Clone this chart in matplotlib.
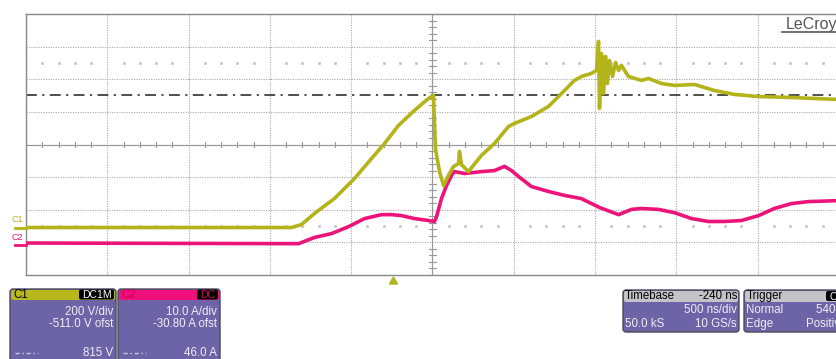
import matplotlib
matplotlib.use("Agg")
import matplotlib.pyplot as plt
from matplotlib.patches import FancyBboxPatch, Polygon
from matplotlib.transforms import blended_transform_factory

W, H = 837, 359

# Scope settings
c1_vdiv = 200.0      # V/div
c1_offset = -511.0   # V
c2_adiv = 10.0       # A/div
c2_offset = -30.80   # A
t_div = 500.0        # ns/div
t_delay = -240.0     # ns
cursor_v = 815.0     # V
cursor_a = 46.0      # A

# Channel 1: voltage (ns, V)
c1_t = [-2260, -627, -566, -486, -363, -240, -135, -55, 31, 129, 215, 246,
        258, 283, 308, 338, 369, 400, 406, 418, 461, 541, 621, 707, 744, 849,
        953, 1052, 1113, 1156, 1218, 1249, 1261, 1267, 1279, 1292, 1304, 1316,
        1329, 1347, 1366, 1384, 1402, 1445, 1525, 1568, 1648, 1728, 1851,
        1974, 2097, 2245, 2448, 2740]
c1_v = [2, 2, 20, 88, 180, 302, 425, 517, 628, 720, 793, 812,
        486, 345, 259, 321, 376, 394, 468, 388, 345, 444, 517, 621, 640, 683,
        744, 842, 904, 928, 947, 965, 1143, 732, 1069, 824, 1051, 885,
        1026, 928, 1014, 965, 996, 928, 904, 916, 885, 873, 879,
        842, 818, 805, 799, 787]

# Channel 2: current (ns, A)
c2_t = [-2260, -584, -486, -381, -277, -178, -74, -12, 49, 129, 215, 252,
        265, 295, 326, 357, 375, 437, 541, 621, 683, 726, 769, 849, 953, 1052,
        1156, 1267, 1384, 1464, 1525, 1630, 1728, 1833, 1937, 2036, 2140,
        2245, 2343, 2448, 2552, 2740]
c2_a = [0.6, 0.4, 2.3, 3.5, 5.6, 8.1, 9.3, 9.3, 9.0, 8.1, 7.5, 7.2,
        8.7, 14.2, 18.2, 21.3, 22.5, 21.9, 22.5, 22.8, 24.1, 22.8, 21.0, 17.9,
        16.4, 15.2, 14.2, 11.5, 9.3, 10.9, 11.2, 10.9, 9.9, 8.1, 7.2, 7.2, 7.5,
        9.0, 11.2, 12.7, 13.3, 13.6]

C1_COL = "#b3b31a"
C2_COL = "#ec1479"
PANEL = "#6d64a7"
GRID = "#a8a8a8"


def tx(t):
    return (t + t_delay) / t_div


def y1(v):
    return (v + c1_offset) / c1_vdiv


def y2(a):
    return (a + c2_offset) / c2_adiv


fig = plt.figure(figsize=(W / 100, H / 100), dpi=100)
fig.patch.set_facecolor("white")

# Graticule
ax = fig.add_axes([26 / W, (H - 275) / H, 813 / W, 261 / H])
ax.set_xlim(-5, 5)
ax.set_ylim(-4, 4)
ax.set_xticks([])
ax.set_yticks([])
for s in ax.spines.values():
    s.set_color("#888888")
    s.set_linewidth(1.0)

# Pixel overlay for panels and labels, drawn above the graticule
ov = fig.add_axes([0, 0, 1, 1])
ov.set_xlim(0, W)
ov.set_ylim(H, 0)
ov.axis("off")
ov.set_zorder(5)

for i in range(-4, 5):
    if i != 0:
        ax.axvline(i, color=GRID, lw=0.8, ls=(0, (1, 1.2)), zorder=1)
for j in range(-3, 4):
    if j != 0:
        ax.axhline(j, color=GRID, lw=0.8, ls=(0, (1, 1.2)), zorder=1)
ax.axhline(0, color="#999999", lw=0.9, zorder=1)
ax.axvline(0, color="#999999", lw=0.9, zorder=1)

minor = [k / 5 for k in range(-25, 26) if k % 5 != 0]
for m in minor:
    ax.plot([m, m], [-0.09, 0.09], color="#999999", lw=0.8, zorder=1)
for m in [k / 5 for k in range(-20, 21) if k % 5 != 0]:
    ax.plot([-0.045, 0.045], [m, m], color="#999999", lw=0.8, zorder=1)
for yy in (2.5, -2.5):
    ax.plot(minor, [yy] * len(minor), ls="none", marker="s", ms=1.0,
            color="#c4c4c4", zorder=1)

# Cursor level
ax.axhline(y1(cursor_v), color="#404040", lw=1.3, ls=(0, (6, 3, 1.2, 3)), zorder=2)

# Traces
ax.plot([tx(t) for t in c2_t], [y2(a) for a in c2_a], color=C2_COL, lw=2.6,
        zorder=3, solid_joinstyle="round")
ax.plot([tx(t) for t in c1_t], [y1(v) for v in c1_v], color=C1_COL, lw=2.6,
        zorder=4, solid_joinstyle="round")

# Channel ground markers
bt = blended_transform_factory(ov.transData, ax.transData)
ov_font = ["Liberation Sans", "DejaVu Sans"]
ov.plot([15, 26], [y1(0), y1(0)], color=C1_COL, lw=2, transform=bt, clip_on=False)
ov.plot([15, 26], [y2(0), y2(0)], color=C2_COL, lw=2, transform=bt, clip_on=False)
ov.text(12, 220, "C1", color=C1_COL, fontsize=6.5, family=ov_font, va="center")
ov.text(12, 237, "C2", color=C2_COL, fontsize=6.5, family=ov_font, va="center")

# Trigger position marker
trig_x = 26 + (tx(0) + 5) * 81.3
ov.add_patch(Polygon([[trig_x - 4, 284], [trig_x + 4, 284], [trig_x, 277]],
                     closed=True, color=C1_COL))

# Brand
ov.text(837, 24, "LeCroy", color="#555555", fontsize=11.5, family=ov_font,
        ha="right", va="center")
ov.plot([782, 836], [32, 32], color="#555555", lw=1.2)


def panel(x0, x1, y0, y1_, hdr_h, hdr_col):
    ov.add_patch(FancyBboxPatch((x0, y0), x1 - x0, y1_ - y0,
                                boxstyle="round,pad=0,rounding_size=3",
                                fc=PANEL, ec="#4a4a5a", lw=1.0))
    ov.add_patch(FancyBboxPatch((x0 + 1, y0 + 1), x1 - x0 - 2, hdr_h,
                                boxstyle="round,pad=0,rounding_size=2",
                                fc=hdr_col, ec="none"))


def badge(x0, x1, yc, label, tcol):
    ov.add_patch(FancyBboxPatch((x0, yc - 5), x1 - x0, 10,
                                boxstyle="round,pad=0,rounding_size=2",
                                fc="black", ec="none"))
    ov.text((x0 + x1) / 2, yc + 0.5, label, color=tcol, fontsize=7.5,
            family=ov_font, ha="center", va="center")


TXT = "#eeeef4"
fs = 8.3

# C1 panel
panel(10, 116, 289, 365, 10, "#b8b81c")
ov.text(13, 294.5, "C1", color="black", fontsize=fs, family=ov_font, va="center")
badge(79, 114, 294.5, "DC1M", "white")
ov.text(113, 312, "200 V/div", color=TXT, fontsize=fs, family=ov_font, ha="right", va="center")
ov.text(113, 324, "-511.0 V ofst", color=TXT, fontsize=fs, family=ov_font, ha="right", va="center")
ov.text(113, 353, "815 V", color=TXT, fontsize=fs, family=ov_font, ha="right", va="center")
ov.plot([15, 38], [353, 353], color="#c8c8dc", lw=1, ls=(0, (3, 2, 1, 2)))

# C2 panel
panel(118, 220, 289, 365, 10, "#f0107c")
ov.text(121, 294.5, "C2", color="#c8005a", fontsize=fs, family=ov_font, va="center")
badge(197, 218, 294.5, "DC", "#d0105e")
ov.text(217, 312, "10.0 A/div", color=TXT, fontsize=fs, family=ov_font, ha="right", va="center")
ov.text(217, 324, "-30.80 A ofst", color=TXT, fontsize=fs, family=ov_font, ha="right", va="center")
ov.text(217, 353, "46.0 A", color=TXT, fontsize=fs, family=ov_font, ha="right", va="center")
ov.plot([123, 146], [353, 353], color="#c8c8dc", lw=1, ls=(0, (3, 2, 1, 2)))

# Timebase panel
panel(623, 739, 290, 332, 11, "#c4c4c8")
ov.text(625, 296, "Timebase", color="black", fontsize=fs, family=ov_font, va="center")
ov.text(737, 296, "-240 ns", color="black", fontsize=fs, family=ov_font, ha="right", va="center")
ov.text(737, 310, "500 ns/div", color=TXT, fontsize=fs, family=ov_font, ha="right", va="center")
ov.text(625, 324, "50.0 kS", color=TXT, fontsize=fs, family=ov_font, va="center")
ov.text(737, 324, "10 GS/s", color=TXT, fontsize=fs, family=ov_font, ha="right", va="center")

# Trigger panel (runs past the right edge of the screen)
panel(744, 850, 290, 332, 11, "#c4c4c8")
ov.text(747, 296, "Trigger", color="black", fontsize=fs, family=ov_font, va="center")
badge(826, 846, 296, "C1", "white")
ov.text(746, 310, "Normal", color=TXT, fontsize=fs, family=ov_font, va="center")
ov.text(846, 310, "540 V", color=TXT, fontsize=fs, family=ov_font, ha="right", va="center")
ov.text(746, 324, "Edge", color=TXT, fontsize=fs, family=ov_font, va="center")
ov.text(846, 324, "Positive", color=TXT, fontsize=fs, family=ov_font, ha="right", va="center")

fig.savefig("out.png", dpi=100)
